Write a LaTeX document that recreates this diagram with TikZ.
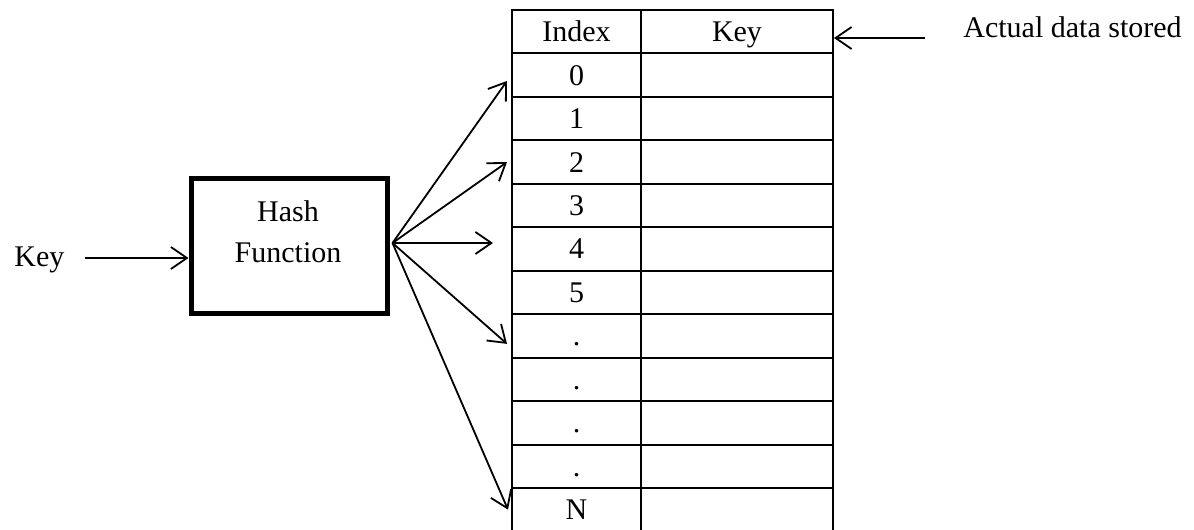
\documentclass[tikz,border=0pt]{standalone}
\usepackage{fontspec}
\setmainfont{Liberation Serif}
\usetikzlibrary{arrows.meta,calc}
\begin{document}
\begin{tikzpicture}[x=0.5pt,y=-0.5pt,
  every node/.style={font=\fontsize{15pt}{20.5pt}\selectfont},
  cell/.style={draw, line width=1pt, inner sep=0pt, minimum height=21.725pt,
    text height=12pt, text depth=2pt},
  idxcell/.style={cell, minimum width=64.5pt},
  keycell/.style={cell, minimum width=96pt},
  hashbox/.style={draw, line width=2.5pt, minimum width=98pt, minimum height=67.5pt, inner sep=0pt},
  lbl/.style={inner sep=0pt, anchor=base west},
  arr/.style={line width=0.9pt, -{Straight Barb[length=8pt,width=11pt]}}]
\useasboundingbox[fill=white] (0,0) rectangle (1194,530);
% table
\node[idxcell] (idxH) at (576.5,31.7) {Index};
\node[keycell] (keyH) at (737,31.7) {Key};
\foreach \t [count=\i] in {0,1,2,3,4,5,.,.,.,.,N} {
  \node[idxcell] (idx\i) at (576.5,{10+43.45*(\i+0.5)}) {\t};
  \node[keycell] (key\i) at (737,{10+43.45*(\i+0.5)}) {};
}
% hash function
\node[hashbox] (hash) at (289,245.5) {};
\node[align=center, inner sep=0pt] (hashtxt) at (288,232) {Hash\\Function};
% input key
\node[lbl] (keyin) at (14,266) {Key};
\coordinate (kstart) at (85,258);
\draw[arr] (kstart) -- (kstart -| hash.west);
% actual data stored
\node[lbl] (actual) at (963,37) {Actual data stored};
\coordinate (astart) at (925,38);
\draw[arr] (astart) -- (astart -| keyH.east);
% fan of arrows
\coordinate (src) at ($(hash.east)+(3,-2.5)$);
\draw[arr] (src) -- ($(idx1.west)+(-4,5.8)$);
\draw[arr] (src) -- ($(idx3.west)+(-4,0)$);
\draw[arr] (src) -- ($(idx5.west)+(-18,-6)$);
\draw[arr] (src) -- ($(idx7.west)+(-4,8)$);
\draw[arr] (src) -- ($(idx11.west)+(-3,0)$);
\end{tikzpicture}
\end{document}
